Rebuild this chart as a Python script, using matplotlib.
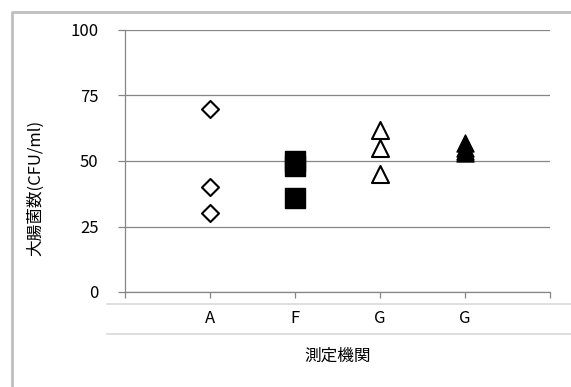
import matplotlib.pyplot as plt
from matplotlib.lines import Line2D

plt.rcParams['font.family'] = ['Noto Sans CJK JP', 'DejaVu Sans']

categories = ['A', 'F', 'G', 'G']
vals_a = [70, 40, 30]
vals_f = [50, 48, 36]
vals_g1 = [62, 55, 45]
vals_g2 = [57, 55, 54, 53]

W, H = 571, 387
fig = plt.figure(figsize=(W / 100, H / 100), dpi=100)
ax = fig.add_axes([125 / W, 1 - 292 / H, 425 / W, 262 / H])

ax.scatter([1] * len(vals_a), vals_a, marker='D', s=75, facecolors='white',
           edgecolors='black', linewidths=1.5, zorder=3)
ax.scatter([2] * len(vals_f), vals_f, marker='s', s=190, color='black',
           zorder=3)
ax.scatter([3] * len(vals_g1), vals_g1, marker='^', s=150, facecolors='white',
           edgecolors='black', linewidths=1.5, zorder=3)
ax.scatter([4] * len(vals_g2), vals_g2, marker='^', s=150, color='black',
           zorder=3)

ax.set_xlim(0, 5)
ax.set_ylim(0, 100)
ax.set_yticks([0, 25, 50, 75, 100])
ax.yaxis.grid(True, color='#868686', linewidth=0.9)
ax.set_axisbelow(True)
ax.set_xticks([0, 1, 2, 3, 4, 5])
ax.set_xticklabels([''] + categories + [''])

for side in ['top', 'right']:
    ax.spines[side].set_visible(False)
for side in ['left', 'bottom']:
    ax.spines[side].set_color('#868686')
    ax.spines[side].set_linewidth(0.9)
ax.tick_params(axis='y', length=5, width=0.9, color='#868686', pad=14,
               labelsize=12)
ax.tick_params(axis='x', length=4, width=0.9, color='#868686', pad=9,
               labelsize=12)

# category table lines and chart border
for yp in [304, 334]:
    fig.add_artist(Line2D([107 / W, 1], [1 - yp / H] * 2, color='#d9d9d9',
                          linewidth=1.2))
fig.add_artist(Line2D([12 / W, 12 / W, 1], [0, 1 - 12 / H, 1 - 12 / H],
                      color='#bfbfbf', linewidth=2))

fig.text(36 / W, 1 - 188 / H, '大腸菌数(CFU/ml)', rotation=90, ha='center',
         va='center', fontsize=12)
fig.text(338 / W, 1 - 356 / H, '測定機関', ha='center', va='center',
         fontsize=12)

fig.savefig('out.png', dpi=100)
